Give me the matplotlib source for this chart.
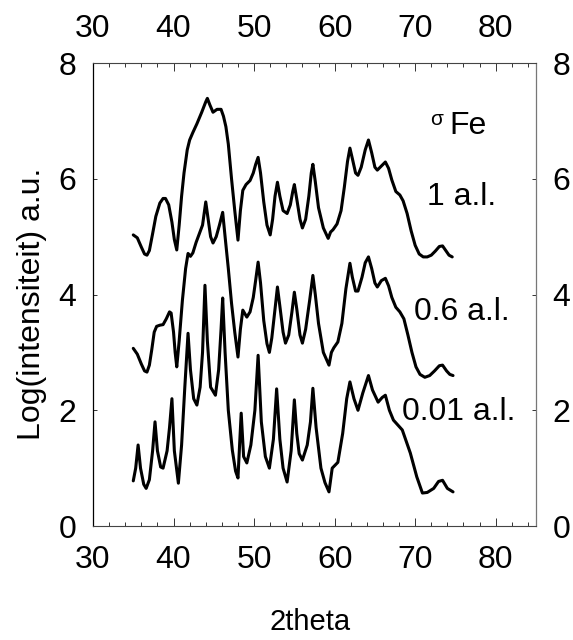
import matplotlib
matplotlib.use("Agg")
import matplotlib.pyplot as plt
from matplotlib.ticker import MultipleLocator

plt.rcParams['font.family'] = ['Liberation Sans', 'DejaVu Sans']

# ---- data ----
x_top = [35.0, 35.5, 36.0, 36.4, 36.7, 37.0, 37.4, 37.8, 38.3, 38.7, 39.0, 39.4, 39.8, 40.1,
         40.4, 40.7, 41.0, 41.3, 41.7, 42.0, 42.4, 42.9, 43.5, 44.0, 44.2, 44.5, 44.9, 45.4,
         45.9, 46.2, 46.5, 46.8, 47.2, 47.6, 48.0, 48.3, 48.6, 49.0, 49.5, 49.9, 50.2, 50.5,
         50.8, 51.2, 51.6, 52.0, 52.3, 52.6, 52.9, 53.2, 53.6, 54.1, 54.5, 54.8, 55.0, 55.3,
         55.7, 56.0, 56.4, 56.8, 57.1, 57.3, 57.6, 58.0, 58.6, 59.2, 59.5, 59.8, 60.3, 60.8,
         61.2, 61.6, 61.9, 62.2, 62.6, 62.9, 63.3, 63.8, 64.2, 64.6, 65.0, 65.3, 65.8, 66.3,
         66.7, 67.1, 67.6, 68.1, 68.5, 69.0, 69.5, 70.0, 70.5, 71.0, 71.5, 72.0, 72.5, 73.0,
         73.4, 73.8, 74.2, 74.6]
y_top = [5.03, 4.98, 4.82, 4.70, 4.68, 4.76, 5.05, 5.35, 5.58, 5.66, 5.66, 5.55, 5.25, 4.95,
         4.77, 5.20, 5.70, 6.10, 6.50, 6.67, 6.80, 6.95, 7.15, 7.33, 7.39, 7.28, 7.15, 7.20,
         7.20, 7.08, 6.90, 6.60, 6.00, 5.45, 4.94, 5.45, 5.80, 5.90, 5.97, 6.10, 6.25, 6.37,
         6.10, 5.60, 5.20, 5.03, 5.30, 5.70, 5.94, 5.70, 5.45, 5.40, 5.55, 5.78, 5.90, 5.65,
         5.30, 5.15, 5.30, 5.70, 6.10, 6.25, 5.95, 5.50, 5.15, 4.97, 5.08, 5.12, 5.22, 5.45,
         5.85, 6.30, 6.53, 6.35, 6.10, 6.06, 6.20, 6.50, 6.67, 6.45, 6.20, 6.15, 6.22, 6.29,
         6.18, 5.98, 5.78, 5.72, 5.62, 5.40, 5.10, 4.85, 4.70, 4.65, 4.65, 4.68, 4.75, 4.83,
         4.84, 4.76, 4.68, 4.65]

x_mid = [35.0, 35.5, 36.0, 36.4, 36.7, 37.0, 37.3, 37.6, 37.9, 38.3, 38.7, 39.1, 39.5, 39.7,
         40.0, 40.2, 40.4, 40.7, 41.1, 41.5, 41.8, 42.1, 42.4, 42.8, 43.2, 43.6, 44.0, 44.3,
         44.6, 44.9, 45.3, 45.7, 46.1, 46.4, 46.8, 47.2, 47.6, 48.0, 48.3, 48.6, 49.1, 49.5,
         49.9, 50.2, 50.5, 50.8, 51.2, 51.6, 51.9, 52.2, 52.6, 52.9, 53.2, 53.6, 53.9, 54.3,
         54.7, 55.0, 55.3, 55.7, 56.0, 56.4, 56.9, 57.3, 57.6, 58.0, 58.6, 59.3, 59.6, 59.9,
         60.4, 60.9, 61.4, 61.9, 62.2, 62.6, 62.9, 63.4, 63.8, 64.2, 64.6, 65.0, 65.3, 65.8,
         66.3, 66.7, 67.1, 67.6, 68.1, 68.6, 69.1, 69.6, 70.1, 70.6, 71.2, 71.8, 72.4, 73.0,
         73.4, 73.9, 74.3, 74.7]
y_mid = [3.07, 2.97, 2.80, 2.68, 2.66, 2.78, 3.05, 3.35, 3.45, 3.47, 3.48, 3.58, 3.70, 3.68,
         3.35, 3.00, 2.75, 3.20, 3.90, 4.45, 4.71, 4.66, 4.72, 4.90, 5.05, 5.20, 5.60, 5.30,
         5.00, 4.89, 5.00, 5.20, 5.42, 5.00, 4.45, 3.85, 3.35, 2.92, 3.40, 3.73, 3.61, 3.70,
         3.95, 4.25, 4.56, 4.20, 3.55, 3.15, 3.00, 3.25, 3.75, 4.13, 3.80, 3.35, 3.16, 3.30,
         3.70, 4.04, 3.75, 3.30, 3.16, 3.40, 3.90, 4.33, 4.00, 3.50, 3.00, 2.78, 3.00, 3.08,
         3.18, 3.50, 4.10, 4.54, 4.30, 4.06, 4.06, 4.30, 4.55, 4.65, 4.45, 4.20, 4.13, 4.24,
         4.28, 4.15, 3.95, 3.78, 3.70, 3.58, 3.30, 3.00, 2.75, 2.62, 2.57, 2.60, 2.68, 2.77,
         2.78, 2.68, 2.62, 2.60]

x_bot = [35.0, 35.3, 35.6, 35.9, 36.3, 36.6, 37.0, 37.4, 37.7, 38.0, 38.4, 38.7, 39.2, 39.5,
         39.8, 40.1, 40.6, 41.0, 41.4, 41.8, 42.1, 42.5, 42.9, 43.3, 43.6, 43.9, 44.2, 44.6,
         45.2, 45.6, 45.9, 46.1, 46.4, 46.8, 47.3, 47.7, 48.0, 48.2, 48.4, 48.7, 49.1, 49.6,
         50.1, 50.5, 50.9, 51.4, 51.9, 52.4, 52.8, 53.2, 53.6, 54.1, 54.6, 55.0, 55.3, 55.6,
         56.0, 56.6, 57.0, 57.3, 57.7, 58.3, 58.8, 59.3, 59.7, 60.4, 61.0, 61.5, 61.9, 62.4,
         62.9, 63.5, 64.2, 64.7, 65.4, 65.9, 66.3, 66.8, 67.3, 68.4, 69.4, 70.2, 70.9, 71.5,
         72.3, 72.9, 73.4, 74.0, 74.7]
y_bot = [0.78, 1.00, 1.40, 1.00, 0.72, 0.65, 0.80, 1.30, 1.80, 1.30, 1.02, 1.00, 1.30, 1.70,
         2.20, 1.30, 0.74, 1.40, 2.40, 3.33, 2.70, 2.20, 2.09, 2.40, 3.00, 4.16, 3.20, 2.40,
         2.26, 2.70, 3.40, 3.94, 3.00, 2.00, 1.31, 0.95, 0.83, 1.40, 1.95, 1.20, 1.09, 1.40,
         2.00, 2.95, 1.80, 1.20, 1.00, 1.50, 2.37, 1.50, 1.00, 0.76, 1.30, 2.18, 1.60, 1.25,
         1.14, 1.40, 1.80, 2.38, 1.70, 1.00, 0.75, 0.59, 1.00, 1.10, 1.60, 2.20, 2.49, 2.20,
         2.00, 2.30, 2.60, 2.35, 2.14, 2.22, 2.26, 2.00, 1.83, 1.66, 1.26, 0.85, 0.57, 0.58,
         0.65, 0.77, 0.79, 0.65, 0.59]

series_labels = ["1 a.l.", "0.6 a.l.", "0.01 a.l."]
x_ticks = [30, 40, 50, 60, 70, 80]
y_ticks = [0, 2, 4, 6, 8]

# ---- figure ----
fig = plt.figure(figsize=(5.73, 6.40), dpi=100)
ax = fig.add_axes([0.1623, 0.1781, 0.7731, 0.7234])

for xs, ys in ((x_top, y_top), (x_mid, y_mid), (x_bot, y_bot)):
    ax.plot(xs, ys, color='black', lw=2.2, solid_joinstyle='round', solid_capstyle='round')

ax.set_xlim(30, 85)
ax.set_ylim(0, 8)
ax.set_xticks(x_ticks)
ax.set_yticks(y_ticks)
ax.xaxis.set_minor_locator(MultipleLocator(2))

fs = 23
ax.tick_params(axis='both', which='both', direction='in', labelsize=fs,
               top=True, bottom=True, left=True, right=True,
               labeltop=True, labelbottom=True, labelleft=True, labelright=True,
               color='#333333', width=0.7)
ax.tick_params(axis='x', which='major', length=6, pad=14)
ax.tick_params(axis='x', which='minor', length=3)
ax.tick_params(axis='y', which='major', length=3, pad=12)

for side in ('top', 'bottom'):
    ax.spines[side].set_linestyle((0, (1.5, 1)))
    ax.spines[side].set_color('#444444')
    ax.spines[side].set_linewidth(0.8)
ax.spines['left'].set_color('black')
ax.spines['left'].set_linewidth(0.9)
ax.spines['right'].set_color('#777777')
ax.spines['right'].set_linewidth(0.9)

ax.set_xlabel("2theta", fontsize=21)
ax.xaxis.label.set_verticalalignment('center')
ax.xaxis.set_label_coords(0.49, -0.207)
ax.set_ylabel("Log(intensiteit) a.u.", fontsize=fs)
ax.yaxis.set_label_coords(-0.104, 0.48)

# annotations
ax.text(71.9, 7.02, "σ", fontsize=15, va='center', ha='left')
ax.text(74.3, 6.91, "Fe", fontsize=fs, va='center', ha='left')
label_x = [71.5, 69.9, 68.4]
label_y = [5.68, 3.70, 1.97]
for lab, lx, ly in zip(series_labels, label_x, label_y):
    ax.text(lx, ly, lab, fontsize=fs, va='center', ha='left')

fig.savefig("out.png", dpi=100)
